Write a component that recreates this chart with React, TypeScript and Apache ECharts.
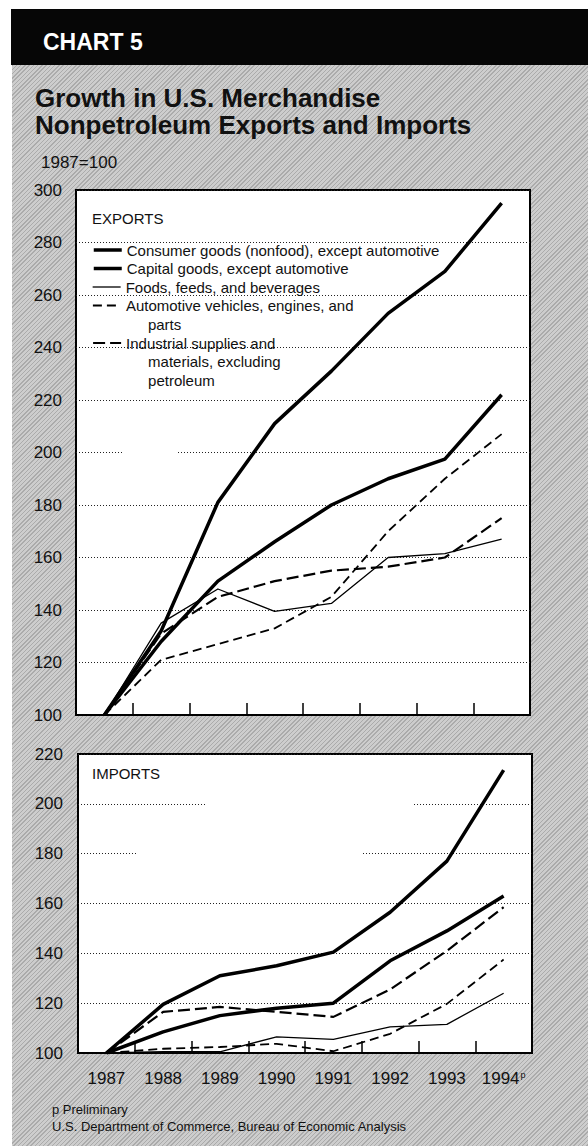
import React, { useEffect, useRef } from "react";
import * as echarts from "echarts";

// ---------- data ----------
const years = ["1987", "1988", "1989", "1990", "1991", "1992", "1993", "1994"];

const NAME_CONSUMER = "Consumer goods (nonfood), except automotive";
const NAME_CAPITAL = "Capital goods, except automotive";
const NAME_FOODS = "Foods, feeds, and beverages";
const NAME_AUTO = "Automotive vehicles, engines, and parts";
const NAME_INDUSTRIAL = "Industrial supplies and materials, excluding petroleum";

// Exports (1987=100)
const exportsConsumer = [100, 132, 181, 211, 231, 253, 269, 295];
const exportsCapital = [100, 128, 151, 166, 180, 190, 197.5, 222];
const exportsFoods = [100, 135, 148, 139.5, 142.5, 160, 161.5, 167];
const exportsAuto = [100, 121, 127, 133, 145, 170, 190, 207];
const exportsIndustrial = [100, 131, 145, 151, 155, 156.5, 160, 175];

// Imports (1987=100)
const importsCapital = [100, 119.5, 131, 135, 140.5, 156.5, 177, 213.5];
const importsConsumer = [100, 108.5, 115, 118, 120, 137, 149, 163];
const importsFoods = [100, 100.5, 100.5, 106.5, 105.5, 110.5, 111.5, 124];
const importsAuto = [100, 101.7, 102.4, 103.7, 100.7, 107.7, 119.7, 137.5];
const importsIndustrial = [100, 116.5, 118.5, 116.5, 114.5, 125.5, 141, 158.5];

// axis ranges
const exportsAxis = { min: 100, max: 300, interval: 20 };
const importsAxis = { min: 100, max: 220, interval: 20 };

// ---------- layout / style ----------
const FONT = "'Liberation Sans', Arial, Helvetica, sans-serif";
const INK = "#111";
const gridTop = { left: 76, top: 190, width: 454, height: 525 };
const gridBottom = { left: 78, top: 754, width: 454, height: 299 };

const styles: Record<string, { width: number; type: any }> = {
  [NAME_CONSUMER]: { width: 3.5, type: "solid" },
  [NAME_CAPITAL]: { width: 3.5, type: "solid" },
  [NAME_FOODS]: { width: 1.3, type: "solid" },
  [NAME_AUTO]: { width: 1.8, type: [9, 5] },
  [NAME_INDUSTRIAL]: { width: 2.2, type: [12, 5] },
};

function makeSeries(name: string, data: number[], idx: number) {
  const s = styles[name];
  return {
    name,
    type: "line",
    xAxisIndex: idx,
    yAxisIndex: idx,
    data,
    symbol: "none",
    silent: true,
    lineStyle: { color: "#000", width: s.width, type: s.type, join: "round" },
    itemStyle: { color: "#000" },
    z: 3,
  };
}

// gaps in the dotted gridlines of the reference print
function gapRect(grid: any, axis: any, value: number, x0: number, x1: number) {
  const y = grid.top + ((axis.max - value) / (axis.max - axis.min)) * grid.height;
  return {
    type: "rect",
    silent: true,
    z: 1,
    shape: { x: x0, y: y - 3, width: x1 - x0, height: 6 },
    style: { fill: "#fff" },
  };
}

const LH = 18.5;
const legendDefs = [
  { name: NAME_CONSUMER, lines: ["Consumer goods (nonfood), except automotive"], center: 250 },
  { name: NAME_CAPITAL, lines: ["Capital goods, except automotive"], center: 268.5 },
  { name: NAME_FOODS, lines: ["Foods, feeds, and beverages"], center: 287 },
  { name: NAME_AUTO, lines: ["Automotive vehicles, engines, and", "parts"], center: 305.5 },
  { name: NAME_INDUSTRIAL, lines: ["Industrial supplies and", "materials, excluding", "petroleum"], center: 343 },
];

export default function App() {
  const ref = useRef<HTMLDivElement>(null);

  useEffect(() => {
    if (!ref.current) return;
    const chart = echarts.init(ref.current, null, { renderer: "svg" });

    const xAxisBase = (gridIndex: number, showLabel: boolean) => ({
      type: "category",
      gridIndex,
      data: years,
      boundaryGap: true,
      axisLine: { show: true, lineStyle: { color: "#000", width: 2 } },
      axisTick: { show: true, inside: true, length: 12, interval: 0, lineStyle: { color: "#000", width: 1.5 } },
      splitLine: { show: false },
      axisLabel: {
        show: showLabel,
        interval: 0,
        margin: 17,
        fontSize: 17,
        color: INK,
        fontFamily: FONT,
        formatter: (v: string) => (v === "1994" ? "1994{sup|p}" : v),
        rich: { sup: { fontSize: 9, color: INK, fontFamily: FONT, verticalAlign: "top", padding: [0, 0, 0, 1] } },
      },
    });

    const yAxisBase = (gridIndex: number, ax: any, margin: number) => ({
      type: "value",
      gridIndex,
      min: ax.min,
      max: ax.max,
      interval: ax.interval,
      axisLine: { show: false },
      axisTick: { show: false },
      splitLine: { show: true, lineStyle: { color: "#222", width: 1, type: [1, 2] } },
      axisLabel: { margin, fontSize: 17, color: INK, fontFamily: FONT },
    });

    const option: any = {
      animation: false,
      backgroundColor: "transparent",
      textStyle: { fontFamily: FONT },
      title: [
        {
          text: "CHART 5",
          left: 43,
          top: 30,
          padding: 0,
          textStyle: { color: "#fff", fontSize: 23, fontWeight: "bold", fontFamily: FONT },
        },
        {
          text: "Growth in U.S. Merchandise\nNonpetroleum Exports and Imports",
          left: 35,
          top: 84,
          padding: 0,
          textStyle: { color: INK, fontSize: 26, lineHeight: 27.5, fontWeight: "bold", fontFamily: FONT },
        },
        {
          text: "1987=100",
          left: 41,
          top: 154,
          padding: 0,
          textStyle: { color: INK, fontSize: 17, fontWeight: "normal", fontFamily: FONT },
        },
        {
          text: "EXPORTS",
          left: 92,
          top: 211,
          padding: 0,
          textStyle: { color: INK, fontSize: 15, fontWeight: "normal", fontFamily: FONT },
        },
        {
          text: "IMPORTS",
          left: 92,
          top: 766,
          padding: 0,
          textStyle: { color: INK, fontSize: 15, fontWeight: "normal", fontFamily: FONT },
        },
        {
          text: "p Preliminary\nU.S. Department of Commerce, Bureau of Economic Analysis",
          left: 52,
          top: 1101,
          padding: 0,
          textStyle: { color: INK, fontSize: 13, lineHeight: 17, fontWeight: "normal", fontFamily: FONT },
        },
      ],
      legend: legendDefs.map((d) => ({
        data: [d.name],
        orient: "vertical",
        left: 92,
        top: d.center - ((2 * d.lines.length - 1) * LH) / 2,
        padding: 0,
        itemWidth: 28,
        itemHeight: 12,
        selectedMode: false,
        itemStyle: { opacity: 0, color: "transparent", borderWidth: 0 },
        lineStyle: { width: styles[d.name].width },
        formatter: () =>
          d.lines.map((l, i) => (i === 0 ? l : "{i|" + l + "}")).join("\n"),
        textStyle: {
          fontSize: 15,
          lineHeight: LH,
          color: INK,
          fontFamily: FONT,
          padding: [(d.lines.length - 1) * LH, 0, 0, 0],
          rich: { i: { fontSize: 15, lineHeight: LH, color: INK, fontFamily: FONT, padding: [0, 0, 0, 22] } },
        },
      })),
      grid: [
        { ...gridTop, show: true, backgroundColor: "#fff", borderColor: "#000", borderWidth: 2 },
        { ...gridBottom, show: true, backgroundColor: "#fff", borderColor: "#000", borderWidth: 2 },
      ],
      xAxis: [xAxisBase(0, false), xAxisBase(1, true)],
      yAxis: [yAxisBase(0, exportsAxis, 14), yAxisBase(1, importsAxis, 15)],
      graphic: [
        gapRect(gridTop, exportsAxis, 200, 122, 176),
        gapRect(gridBottom, importsAxis, 200, 205, 412),
        gapRect(gridBottom, importsAxis, 180, 136, 361),
      ],
      series: [
        makeSeries(NAME_CONSUMER, exportsConsumer, 0),
        makeSeries(NAME_CAPITAL, exportsCapital, 0),
        makeSeries(NAME_FOODS, exportsFoods, 0),
        makeSeries(NAME_AUTO, exportsAuto, 0),
        makeSeries(NAME_INDUSTRIAL, exportsIndustrial, 0),
        makeSeries(NAME_CAPITAL, importsCapital, 1),
        makeSeries(NAME_CONSUMER, importsConsumer, 1),
        makeSeries(NAME_FOODS, importsFoods, 1),
        makeSeries(NAME_AUTO, importsAuto, 1),
        makeSeries(NAME_INDUSTRIAL, importsIndustrial, 1),
      ],
    };

    chart.setOption(option);
    return () => chart.dispose();
  }, []);

  return (
    <div style={{ position: "absolute", left: 0, top: 0, width: 588, height: 1146, background: "#fff", overflow: "hidden" }}>
      <div
        style={{
          position: "absolute",
          left: 12,
          top: 65,
          width: 576,
          height: 1081,
          background:
            "repeating-linear-gradient(135deg, #ababab 0px, #ababab 1px, #cdcdcd 1px, #cdcdcd 3px)",
        }}
      />
      <div style={{ position: "absolute", left: 11, top: 9, width: 577, height: 56, background: "#060606" }} />
      <div ref={ref} style={{ position: "absolute", left: 0, top: 0, width: 588, height: 1146 }} />
    </div>
  );
}
